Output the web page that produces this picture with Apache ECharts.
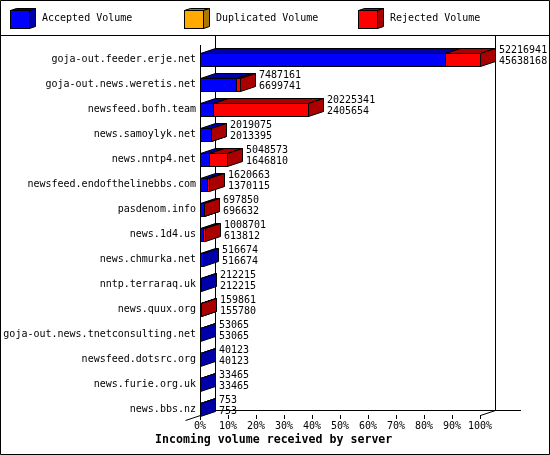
<!DOCTYPE html>
<html>
<head>
<meta charset="utf-8">
<script src="https://cdn.jsdelivr.net/npm/echarts@6/dist/echarts.min.js"></script>
<style>
html,body{margin:0;padding:0;background:#fff;}
#chart{width:550px;height:455px;}
</style>
</head>
<body>
<div id="chart"></div>
<script>
var categories = [
  'goja-out.feeder.erje.net',
  'goja-out.news.weretis.net',
  'newsfeed.bofh.team',
  'news.samoylyk.net',
  'news.nntp4.net',
  'newsfeed.endofthelinebbs.com',
  'pasdenom.info',
  'news.1d4.us',
  'news.chmurka.net',
  'nntp.terraraq.uk',
  'news.quux.org',
  'goja-out.news.tnetconsulting.net',
  'newsfeed.dotsrc.org',
  'news.furie.org.uk',
  'news.bbs.nz'
];
var totalVolume = [52216941, 7487161, 20225341, 2019075, 5048573, 1620663, 697850, 1008701, 516674, 212215, 159861, 53065, 40123, 33465, 753];
var acceptedVolume = [45638168, 6699741, 2405654, 2013395, 1646810, 1370115, 696632, 613812, 516674, 212215, 155780, 53065, 40123, 33465, 753];
var duplicatedVolume = [0, 0, 0, 0, 0, 0, 0, 0, 0, 0, 0, 0, 0, 0, 0];
var xTickLabels = ['0%','10%','20%','30%','40%','50%','60%','70%','80%','90%','100%'];

var FONT = 'DejaVu Sans Mono';
var DX = 15, DY = 5, HALF = 6.5;
var maxTotal = Math.max.apply(null, totalVolume);
function pct(v) { return v / maxTotal * 100; }

var rejectedVolume = totalVolume.map(function (t, i) { return t - acceptedVolume[i] - duplicatedVolume[i]; });

function segData(values, offsets) {
  var out = [];
  values.forEach(function (v, i) {
    if (v > 0) {
      var s = offsets[i];
      out.push([i, pct(s), pct(s + v)]);
    }
  });
  return out;
}
var off0 = categories.map(function () { return 0; });
var off1 = acceptedVolume.slice();
var off2 = acceptedVolume.map(function (a, i) { return a + duplicatedVolume[i]; });

function cr(v) { return Math.round(v) + 0.5; }

function boxRenderer(front, dark) {
  return function (params, api) {
    var cat = api.value(0);
    var a = api.coord([api.value(1), cat]);
    var b = api.coord([api.value(2), cat]);
    var x0 = cr(a[0]), x1 = cr(b[0]);
    var yT = cr(a[1] - HALF), yB = cr(a[1] + HALF);
    var st = { stroke: '#000', lineWidth: 1 };
    return {
      type: 'group',
      children: [
        { type: 'rect', shape: { x: x0, y: yT, width: x1 - x0, height: yB - yT },
          style: Object.assign({ fill: front }, st) },
        { type: 'polygon', shape: { points: [[x0, yT], [x0 + DX, yT - DY], [x1 + DX, yT - DY], [x1, yT]] },
          style: Object.assign({ fill: dark }, st) },
        { type: 'polygon', shape: { points: [[x1, yT], [x1 + DX, yT - DY], [x1 + DX, yB - DY], [x1, yB]] },
          style: Object.assign({ fill: dark }, st) }
      ]
    };
  };
}

function cubeIcon(front, dark) {
  var svg = '<svg xmlns="http://www.w3.org/2000/svg" width="26" height="21" viewBox="0 0 26 21">' +
    '<polygon points="0.5,2.5 6.5,0.5 25.5,0.5 19.5,2.5" fill="' + dark + '" stroke="#000" stroke-width="1"/>' +
    '<polygon points="19.5,2.5 25.5,0.5 25.5,18.5 19.5,20.5" fill="' + dark + '" stroke="#000" stroke-width="1"/>' +
    '<rect x="0.5" y="2.5" width="19" height="18" fill="' + front + '" stroke="#000" stroke-width="1"/>' +
    '</svg>';
  return 'image://data:image/svg+xml;charset=utf-8,' + encodeURIComponent(svg);
}

var colors = {
  acc: ['#0000ff', '#0000aa'],
  dup: ['#ffaa00', '#aa7700'],
  rej: ['#ff0000', '#aa0000']
};

function legendAt(left, name, c) {
  return {
    left: left, top: 8, padding: 0, itemGap: 0, itemWidth: 26, itemHeight: 21,
    selectedMode: false,
    textStyle: { fontFamily: FONT, fontSize: 10, color: '#000', padding: [2, 0, 0, 1] },
    data: [{ name: name, icon: cubeIcon(c[0], c[1]) }]
  };
}

var labelData = categories.map(function (c, i) {
  return [i, pct(totalVolume[i]), String(totalVolume[i]), String(acceptedVolume[i])];
});

var chart = echarts.init(document.getElementById('chart'));
chart.setOption({
  animation: false,
  backgroundColor: '#fff',
  title: {
    text: 'Incoming volume received by server',
    left: 155, top: 434, padding: 0,
    textStyle: { fontFamily: FONT, fontSize: 11.6, fontWeight: 'bold', color: '#000' }
  },
  legend: [
    legendAt(10, 'Accepted Volume', colors.acc),
    legendAt(184, 'Duplicated Volume', colors.dup),
    legendAt(358, 'Rejected Volume', colors.rej)
  ],
  graphic: [
    { type: 'rect', shape: { x: 0.5, y: 0.5, width: 549, height: 454 }, style: { fill: null, stroke: '#000', lineWidth: 1 }, silent: true },
    { type: 'line', shape: { x1: 0, y1: 35.5, x2: 550, y2: 35.5 }, style: { stroke: '#000', lineWidth: 1 }, silent: true }
  ],
  grid: { left: 200, right: 70, top: 47, bottom: 33 },
  xAxis: {
    type: 'value', min: 0, max: 100, interval: 10, offset: -7,
    axisLine: { show: false },
    axisTick: { show: true, length: 4, lineStyle: { color: '#000' } },
    splitLine: { show: false },
    axisLabel: {
      margin: 6, fontFamily: FONT, fontSize: 10, color: '#000',
      formatter: function (v) { return xTickLabels[Math.round(v / 10)]; }
    }
  },
  yAxis: {
    type: 'category', data: categories, inverse: true,
    axisLine: { show: false }, axisTick: { show: false }, splitLine: { show: false },
    axisLabel: { margin: 4, fontFamily: FONT, fontSize: 10, color: '#000' }
  },
  series: [
    {
      type: 'custom', name: 'frame', z: 1, silent: true,
      data: [[0, 0]], encode: { x: 0, y: 1 },
      renderItem: function (params, api) {
        var cs = params.coordSys;
        var L = cr(cs.x), R = cr(cs.x + cs.width), T = cs.y, B = cs.y + cs.height;
        var st = { stroke: '#000', lineWidth: 1 };
        function ln(x1, y1, x2, y2) { return { type: 'line', shape: { x1: x1, y1: y1, x2: x2, y2: y2 }, style: st }; }
        return {
          type: 'group',
          children: [
            ln(L, T - 2, L, B - 2),
            ln(L + DX, 35.5, L + DX, cr(B - 12)),
            ln(R + DX, 35.5, R + DX, cr(B - 12)),
            ln(L + DX, cr(B - 12), 521, cr(B - 12)),
            ln(L - DX, cr(B - 2), L + DX, cr(B - 12)),
            ln(R, cr(B - 7), R + DX, cr(B - 12))
          ]
        };
      }
    },
    {
      type: 'custom', name: 'Accepted Volume', z: 2,
      data: segData(acceptedVolume, off0), encode: { x: [1, 2], y: 0 },
      renderItem: boxRenderer(colors.acc[0], colors.acc[1])
    },
    {
      type: 'custom', name: 'Duplicated Volume', z: 2,
      data: segData(duplicatedVolume, off1), encode: { x: [1, 2], y: 0 },
      renderItem: boxRenderer(colors.dup[0], colors.dup[1])
    },
    {
      type: 'custom', name: 'Rejected Volume', z: 2,
      data: segData(rejectedVolume, off2), encode: { x: [1, 2], y: 0 },
      renderItem: boxRenderer(colors.rej[0], colors.rej[1])
    },
    {
      type: 'custom', name: 'labels', z: 3, silent: true,
      data: labelData, encode: { x: 1, y: 0 },
      renderItem: function (params, api) {
        var i = params.dataIndex;
        var d = labelData[i];
        var p = api.coord([d[1], d[0]]);
        return {
          type: 'text',
          style: {
            x: Math.round(p[0]) + DX + 4, y: p[1] - 3.5,
            text: d[2] + '\n' + d[3],
            fontFamily: FONT, fontSize: 10, lineHeight: 11,
            fill: '#000', align: 'left', verticalAlign: 'middle'
          }
        };
      }
    }
  ]
});
</script>
</body>
</html>
